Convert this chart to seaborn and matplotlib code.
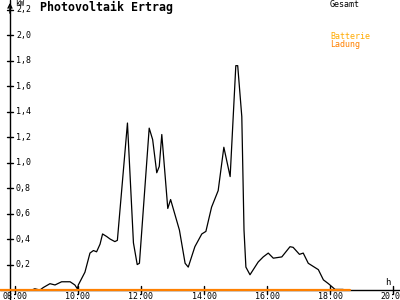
import matplotlib
matplotlib.use("Agg")
import matplotlib.pyplot as plt
import seaborn as sns
import pandas as pd

# ---- data ----
time_h = [8.53, 8.63, 8.79, 8.90, 9.11, 9.27, 9.48, 9.75, 9.90, 9.98, 10.01,
          10.22, 10.38, 10.49, 10.59, 10.70, 10.78, 10.91, 11.02, 11.17, 11.25,
          11.57, 11.76, 11.88, 11.95, 12.26, 12.37, 12.50, 12.58, 12.66, 12.85,
          12.94, 13.22, 13.40, 13.50, 13.71, 13.93, 14.06, 14.24, 14.45, 14.63,
          14.83, 15.01, 15.07, 15.20, 15.27, 15.33, 15.46, 15.72, 15.88, 16.04,
          16.20, 16.47, 16.73, 16.83, 17.03, 17.15, 17.31, 17.63, 17.79, 17.95,
          18.16, 18.42]
gesamt_kw = [0.00, 0.01, 0.00, 0.02, 0.05, 0.04, 0.065, 0.065, 0.04, 0.01, 0.04,
             0.14, 0.29, 0.31, 0.30, 0.36, 0.44, 0.42, 0.40, 0.38, 0.39,
             1.31, 0.37, 0.20, 0.21, 1.27, 1.18, 0.92, 0.97, 1.22, 0.64,
             0.71, 0.47, 0.21, 0.18, 0.34, 0.44, 0.46, 0.65, 0.78, 1.12,
             0.89, 1.76, 1.76, 1.36, 0.47, 0.18, 0.12, 0.22, 0.26, 0.29,
             0.25, 0.26, 0.34, 0.335, 0.28, 0.29, 0.21, 0.16, 0.08, 0.05,
             0.005, 0.005]
battery_t = [7.5, 18.62]
battery_kw = [0.0, 0.0]

x_ticks = [8, 10, 12, 14, 16, 18, 20]
x_labels = ["08:00", "10:00", "12:00", "14:00", "16:00", "18:00", "20:00"]
y_ticks = [0.2, 0.4, 0.6, 0.8, 1.0, 1.2, 1.4, 1.6, 1.8, 2.0, 2.2]
y_labels = ["0,2", "0,4", "0,6", "0,8", "1,0", "1,2", "1,4", "1,6", "1,8", "2,0", "2,2"]

sns.set_style("white")
plt.rcParams["font.family"] = ["DejaVu Sans Mono", "DejaVu Sans"]

fig = plt.figure(figsize=(4, 3), dpi=100)
ax = fig.add_axes([0, 0, 1, 1])
ax.set_xlim(7.524, 20.222)
ax.set_ylim(-0.078, 2.275)

df = pd.DataFrame({"t": time_h, "kw": gesamt_kw})
bf = pd.DataFrame({"t": battery_t, "kw": battery_kw})

y_axis_x = 7.84

# axis lines
ax.axhline(0, color="black", lw=1.0, zorder=1)
ax.axvline(y_axis_x, color="black", lw=1.0, zorder=1)
ax.annotate("", xy=(y_axis_x, 2.275), xytext=(y_axis_x, 2.15),
            arrowprops=dict(arrowstyle="->", color="black", lw=1.0, mutation_scale=7))

sns.lineplot(data=df, x="t", y="kw", ax=ax, color="black", lw=0.9, zorder=3)
sns.lineplot(data=bf, x="t", y="kw", ax=ax, color="#ff8000", lw=1.6, zorder=4)

for s in ax.spines.values():
    s.set_visible(False)
ax.set_xticks([])
ax.set_yticks([])
ax.set_xlabel("")
ax.set_ylabel("")

# ticks + labels
for v, lab in zip(x_ticks, x_labels):
    ax.plot([v, v], [-0.03, 0.03], color="black", lw=1.0, zorder=2)
    ax.text(v, -0.05, lab, ha="center", va="center", fontsize=6, color="black")
for v, lab in zip(y_ticks, y_labels):
    ax.plot([y_axis_x - 0.09, y_axis_x + 0.09], [v, v], color="black", lw=1.0, zorder=2)
    ax.annotate(lab, xy=(y_axis_x, v), xytext=(6, 0), textcoords="offset pixels",
                ha="left", va="center", fontsize=6, color="black")

ax.annotate("kW", xy=(y_axis_x, 2.2), xytext=(5, 6), textcoords="offset pixels",
            ha="left", va="center", fontsize=5.5, color="black")
ax.text(19.85, 0.06, "h", ha="center", va="center", fontsize=6.5, color="black")

ax.text(8.79, 2.215, "Photovoltaik Ertrag", ha="left", va="center",
        fontsize=8.4, fontweight="bold", color="black")
ax.text(18.0, 2.24, "Gesamt", ha="left", va="center", fontsize=6, color="black")
ax.text(18.0, 1.99, "Batterie", ha="left", va="center", fontsize=6, color="#ffaa00")
ax.text(18.0, 1.925, "Ladung", ha="left", va="center", fontsize=6, color="#ff8000")

fig.savefig("out.png", dpi=100)
